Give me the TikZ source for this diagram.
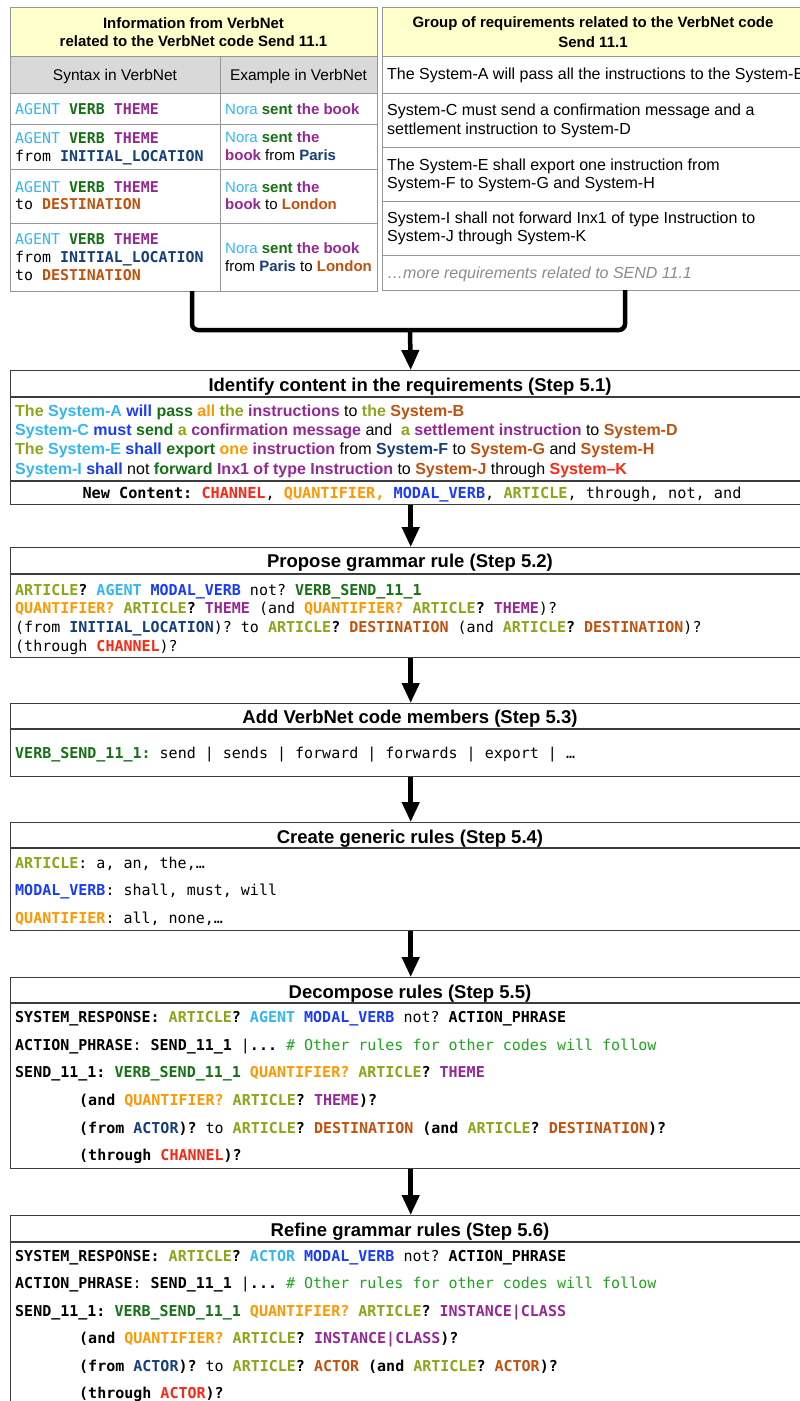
\documentclass[tikz,border=0pt]{standalone}
\usepackage{fontspec}
\setmainfont{Liberation Sans}
\setmonofont{DejaVu Sans Mono}
\usetikzlibrary{arrows.meta}
\definecolor{cAgent}{RGB}{52,182,245}
\definecolor{cVerb}{RGB}{22,112,22}
\definecolor{cTheme}{RGB}{150,40,150}
\definecolor{cLoc}{RGB}{22,62,120}
\definecolor{cDest}{RGB}{192,82,14}
\definecolor{cArt}{RGB}{140,165,25}
\definecolor{cModal}{RGB}{25,60,250}
\definecolor{cQuant}{RGB}{255,152,0}
\definecolor{cChan}{RGB}{250,40,20}
\definecolor{cComment}{RGB}{30,165,30}
\definecolor{cMore}{RGB}{140,140,140}
\definecolor{hdrYellow}{RGB}{255,255,204}
\definecolor{hdrGray}{RGB}{217,217,217}
\definecolor{tblLine}{RGB}{150,150,150}
\definecolor{boxLine}{RGB}{60,60,60}
\newcommand\kAg[1]{\textcolor{cAgent}{#1}}
\newcommand\kVb[1]{\textcolor{cVerb}{#1}}
\newcommand\kTh[1]{\textcolor{cTheme}{#1}}
\newcommand\kLo[1]{\textcolor{cLoc}{#1}}
\newcommand\kDe[1]{\textcolor{cDest}{#1}}
\newcommand\kAr[1]{\textcolor{cArt}{#1}}
\newcommand\kMo[1]{\textcolor{cModal}{#1}}
\newcommand\kQu[1]{\textcolor{cQuant}{#1}}
\newcommand\kCh[1]{\textcolor{cChan}{#1}}
\newcommand\kCo[1]{\textcolor{cComment}{#1}}
\newcommand\fHead{\fontsize{15}{18}\selectfont\rmfamily\bfseries}
\newcommand\fReg{\fontsize{16}{18}\selectfont\rmfamily}
\newcommand\fGray{\fontsize{15.5}{18}\selectfont\rmfamily}
\newcommand\fEx{\fontsize{15}{18}\selectfont\rmfamily}
\newcommand\fTitle{\fontsize{18.5}{21}\selectfont\rmfamily\bfseries}
\newcommand\fReq{\fontsize{16}{19}\selectfont\rmfamily\bfseries}
\newcommand\fMono{\fontsize{15}{18}\selectfont\ttfamily}
\newcommand\fMonoN{\fontsize{15.2}{18}\selectfont\ttfamily}
\newcommand\fMonoT{\fontsize{14.9}{18}\selectfont\ttfamily}
\newcommand\rg[1]{{\mdseries #1}}
\begin{document}
\begin{tikzpicture}[x=1pt,y=-1pt,
  txt/.style={anchor=base west,inner sep=0pt},
  ctr/.style={anchor=base,inner sep=0pt},
  tblbox/.style={draw=tblLine,line width=1pt,anchor=north west,inner sep=0pt},
  stepbox/.style={draw=boxLine,line width=1.4pt,anchor=north west,inner sep=0pt,fill=white,minimum width=800pt},
  tline/.style={draw=tblLine,line width=1pt},
  sline/.style={draw=boxLine,line width=1.4pt},
  flow/.style={line width=4.5pt,-{Triangle[length=20pt,width=17pt]}},
  conn/.style={line width=4.5pt,rounded corners=6pt}]
\useasboundingbox (0,0) rectangle (800,1401);
\clip (0,0) rectangle (800,1401);
\fill[white] (0,0) rectangle (800,1401);

% ---------- left table ----------
\fill[hdrYellow] (10,7) rectangle (377,56);
\fill[hdrGray] (10,56) rectangle (377,93);
\node[tblbox,minimum width=367pt,minimum height=284pt] (tblL) at (10,7) {};
\draw[tline] (10,56) -- (377,56);
\draw[tline] (10,93) -- (377,93);
\draw[tline] (10,124) -- (377,124);
\draw[tline] (10,169) -- (377,169);
\draw[tline] (10,223) -- (377,223);
\draw[tline] (220,56) -- (220,291);
\node[ctr] (lh1) at (193.5,28.5) {\fHead Information from VerbNet};
\node[ctr] (lh2) at (193.5,46.5) {\fHead related to the VerbNet code Send 11.1};
\node[ctr] (lg1) at (115,80.5) {\fGray Syntax in VerbNet};
\node[ctr] (lg2) at (298.5,80.5) {\fGray Example in VerbNet};
\node[txt] (sy1) at (15,114.4) {\fMonoT\kAg{AGENT} \textbf{\kVb{VERB} \kTh{THEME}}};
\node[txt] (sy2a) at (15,143.4) {\fMonoT\kAg{AGENT} \textbf{\kVb{VERB} \kTh{THEME}}};
\node[txt] (sy2b) at (15,161) {\fMonoT from \textbf{\kLo{INITIAL\_LOCATION}}};
\node[txt] (sy3a) at (15,192) {\fMonoT\kAg{AGENT} \textbf{\kVb{VERB} \kTh{THEME}}};
\node[txt] (sy3b) at (15,209.7) {\fMonoT to \textbf{\kDe{DESTINATION}}};
\node[txt] (sy4a) at (15,244) {\fMonoT\kAg{AGENT} \textbf{\kVb{VERB} \kTh{THEME}}};
\node[txt] (sy4b) at (15,262) {\fMonoT from \textbf{\kLo{INITIAL\_LOCATION}}};
\node[txt] (sy4c) at (15,280) {\fMonoT to \textbf{\kDe{DESTINATION}}};
\node[txt] (ex1) at (225,114.2) {\fEx\kAg{Nora} \textbf{\kVb{sent} \kTh{the book}}};
\node[txt] (ex2a) at (225,142.7) {\fEx\kAg{Nora} \textbf{\kVb{sent} \kTh{the}}};
\node[txt] (ex2b) at (225,160.7) {\fEx\textbf{\kTh{book}} from \textbf{\kLo{Paris}}};
\node[txt] (ex3a) at (225,192) {\fEx\kAg{Nora} \textbf{\kVb{sent} \kTh{the}}};
\node[txt] (ex3b) at (225,209.7) {\fEx\textbf{\kTh{book}} to \textbf{\kDe{London}}};
\node[txt] (ex4a) at (225,253) {\fEx\kAg{Nora} \textbf{\kVb{sent} \kTh{the book}}};
\node[txt] (ex4b) at (225,271) {\fEx from \textbf{\kLo{Paris}} to \textbf{\kDe{London}}};

% ---------- right table ----------
\fill[hdrYellow] (382,7) rectangle (802,56);
\node[tblbox,minimum width=420pt,minimum height=283pt] (tblR) at (382,7) {};
\draw[tline] (382,56) -- (802,56);
\draw[tline] (382,93) -- (802,93);
\draw[tline] (382,147) -- (802,147);
\draw[tline] (382,201) -- (802,201);
\draw[tline] (382,255) -- (802,255);
\node[ctr] (rh1) at (593,27) {\fHead Group of requirements related to the VerbNet code};
\node[ctr] (rh2) at (593,47) {\fHead Send 11.1};
\node[txt] (rq1) at (387,79) {\fReg The System-A will pass all the instructions to the System-B};
\node[txt] (rq2a) at (387,115.5) {\fReg System-C must send a confirmation message and a};
\node[txt] (rq2b) at (387,134) {\fReg settlement instruction to System-D};
\node[txt] (rq3a) at (387,170) {\fReg The System-E shall export one instruction from};
\node[txt] (rq3b) at (387,188) {\fReg System-F to System-G and System-H};
\node[txt] (rq4a) at (387,223.5) {\fReg System-I shall not forward Inx1 of type Instruction to};
\node[txt] (rq4b) at (387,241.5) {\fReg System-J through System-K};
\node[txt] (rq5) at (387,278) {\fReg\itshape\color{cMore}…more requirements related to SEND 11.1};

% ---------- merge connector ----------
\coordinate (jl) at (192,291);
\coordinate (jr) at (625,290);
\coordinate (merge) at (410,330);
\draw[conn] (jl) -- (192,330) -- (625,330) -- (jr);

% ---------- step boxes ----------
\node[stepbox,minimum height=134pt] (s51) at (10,370) {};
\draw[sline] (10,397) -- (810,397);
\draw[sline] (10,481) -- (810,481);
\node[ctr] (s51t) at (410,391.5) {\fTitle Identify content in the requirements (Step 5.1)};
\node[txt] (s51a) at (15,416.4) {\fReq\kAr{The} \kAg{System-A} \kMo{will} \kVb{pass} \kQu{all} \kAr{the} \kTh{instructions} \rg{to} \kAr{the} \kDe{System-B}};
\node[txt] (s51b) at (15,435.7) {\fReq\kAg{System-C} \kMo{must} \kVb{send} \kAr{a} \kTh{confirmation message} \rg{and} \ \kAr{a} \kTh{settlement instruction} \rg{to} \kDe{System-D}};
\node[txt] (s51c) at (15,454.7) {\fReq\kAr{The} \kAg{System-E} \kMo{shall} \kVb{export} \kQu{one} \kTh{instruction} \rg{from} \kLo{System-F} \rg{to} \kDe{System-G} \rg{and} \kDe{System-H}};
\node[txt] (s51d) at (15,474) {\fReq\kAg{System-I} \kMo{shall} \rg{not} \kVb{forward} \kTh{Inx1 of type Instruction} \rg{to} \kDe{System-J} \rg{through} \kCh{System–K}};
\node[ctr] (s51n) at (412,498.2) {\fMonoN\textbf{New Content:} \textbf{\kCh{CHANNEL}}, \textbf{\kQu{QUANTIFIER,}} \textbf{\kMo{MODAL\_VERB}}, \textbf{\kAr{ARTICLE}}, through, not, and};

\node[stepbox,minimum height=110pt] (s52) at (10,547) {};
\draw[sline] (10,574) -- (810,574);
\node[ctr] (s52t) at (410,567.3) {\fTitle Propose grammar rule (Step 5.2)};
\node[txt] (s52a) at (15,595.5) {\fMono\textbf{\kAr{ARTICLE}?} \textbf{\kAg{AGENT}} \textbf{\kMo{MODAL\_VERB}} not? \textbf{\kVb{VERB\_SEND\_11\_1}}};
\node[txt] (s52b) at (15,613.8) {\fMono\textbf{\kQu{QUANTIFIER?}} \textbf{\kAr{ARTICLE}?} \textbf{\kTh{THEME}} (and \textbf{\kQu{QUANTIFIER?}} \textbf{\kAr{ARTICLE}?} \textbf{\kTh{THEME}})?};
\node[txt] (s52c) at (15,632.8) {\fMono(from \textbf{\kLo{INITIAL\_LOCATION}})? to \textbf{\kAr{ARTICLE}?} \textbf{\kDe{DESTINATION}} (and \textbf{\kAr{ARTICLE}?} \textbf{\kDe{DESTINATION}})?};
\node[txt] (s52d) at (15,651.5) {\fMono(through \textbf{\kCh{CHANNEL}})?};

\node[stepbox,minimum height=73pt] (s53) at (10,703) {};
\draw[sline] (10,729) -- (810,729);
\node[ctr] (s53t) at (410,723.3) {\fTitle Add VerbNet code members (Step 5.3)};
\node[txt] (s53a) at (15,758.2) {\fMono\textbf{\kVb{VERB\_SEND\_11\_1:}} send | sends | forward | forwards | export | …};

\node[stepbox,minimum height=108pt] (s54) at (10,822) {};
\draw[sline] (10,848) -- (810,848);
\node[ctr] (s54t) at (410,843.3) {\fTitle Create generic rules (Step 5.4)};
\node[txt] (s54a) at (15,868) {\fMono\textbf{\kAr{ARTICLE}}: a, an, the,…};
\node[txt] (s54b) at (15,895.5) {\fMono\textbf{\kMo{MODAL\_VERB}}: shall, must, will};
\node[txt] (s54c) at (15,923) {\fMono\textbf{\kQu{QUANTIFIER}}: all, none,…};

\node[stepbox,minimum height=191pt] (s55) at (10,977) {};
\draw[sline] (10,1003) -- (810,1003);
\node[ctr] (s55t) at (410,998.3) {\fTitle Decompose rules (Step 5.5)};
\node[txt] (s55a) at (15,1022.8) {\fMono\textbf{SYSTEM\_RESPONSE: \kAr{ARTICLE}? \kAg{AGENT} \kMo{MODAL\_VERB}} not? \textbf{ACTION\_PHRASE}};
\node[txt] (s55b) at (15,1050.5) {\fMono\textbf{ACTION\_PHRASE}: \textbf{SEND\_11\_1} |\textbf{...} \kCo{\# Other rules for other codes will follow}};
\node[txt] (s55c) at (15,1077.8) {\fMono\textbf{SEND\_11\_1: \kVb{VERB\_SEND\_11\_1} \kQu{QUANTIFIER?} \kAr{ARTICLE}? \kTh{THEME}}};
\node[txt] (s55d) at (79,1105.5) {\fMono\textbf{(and \kQu{QUANTIFIER?} \kAr{ARTICLE}? \kTh{THEME})?}};
\node[txt] (s55e) at (79,1133.2) {\fMono\textbf{(from \kLo{ACTOR})?} to \textbf{\kAr{ARTICLE}? \kDe{DESTINATION} (and \kAr{ARTICLE}? \kDe{DESTINATION})?}};
\node[txt] (s55f) at (79,1160.5) {\fMono\textbf{(through \kCh{CHANNEL})?}};

\node[stepbox,minimum height=240pt] (s56) at (10,1215) {};
\draw[sline] (10,1242) -- (810,1242);
\node[ctr] (s56t) at (410,1236.6) {\fTitle Refine grammar rules (Step 5.6)};
\node[txt] (s56a) at (15,1261.5) {\fMono\textbf{SYSTEM\_RESPONSE: \kAr{ARTICLE}? \kAg{ACTOR} \kMo{MODAL\_VERB}} not? \textbf{ACTION\_PHRASE}};
\node[txt] (s56b) at (15,1288.8) {\fMono\textbf{ACTION\_PHRASE}: \textbf{SEND\_11\_1} |\textbf{...} \kCo{\# Other rules for other codes will follow}};
\node[txt] (s56c) at (15,1316.2) {\fMono\textbf{SEND\_11\_1: \kVb{VERB\_SEND\_11\_1} \kQu{QUANTIFIER?} \kAr{ARTICLE}? \kTh{INSTANCE|CLASS}}};
\node[txt] (s56d) at (79,1343.8) {\fMono\textbf{(and \kQu{QUANTIFIER?} \kAr{ARTICLE}? \kTh{INSTANCE|CLASS})?}};
\node[txt] (s56e) at (79,1371.2) {\fMono\textbf{(from \kLo{ACTOR})?} to \textbf{\kAr{ARTICLE}? \kDe{ACTOR} (and \kAr{ARTICLE}? \kDe{ACTOR})?}};
\node[txt] (s56f) at (79,1398.8) {\fMono\textbf{(through \kCh{ACTOR})?}};

% ---------- arrows ----------
\draw[flow] (merge) -- (s51.north);
\draw[flow] (s51.south) -- (s52.north);
\draw[flow] (s52.south) -- (s53.north);
\draw[flow] (s53.south) -- (s54.north);
\draw[flow] (s54.south) -- (s55.north);
\draw[flow] (s55.south) -- (s56.north);
\end{tikzpicture}
\end{document}
